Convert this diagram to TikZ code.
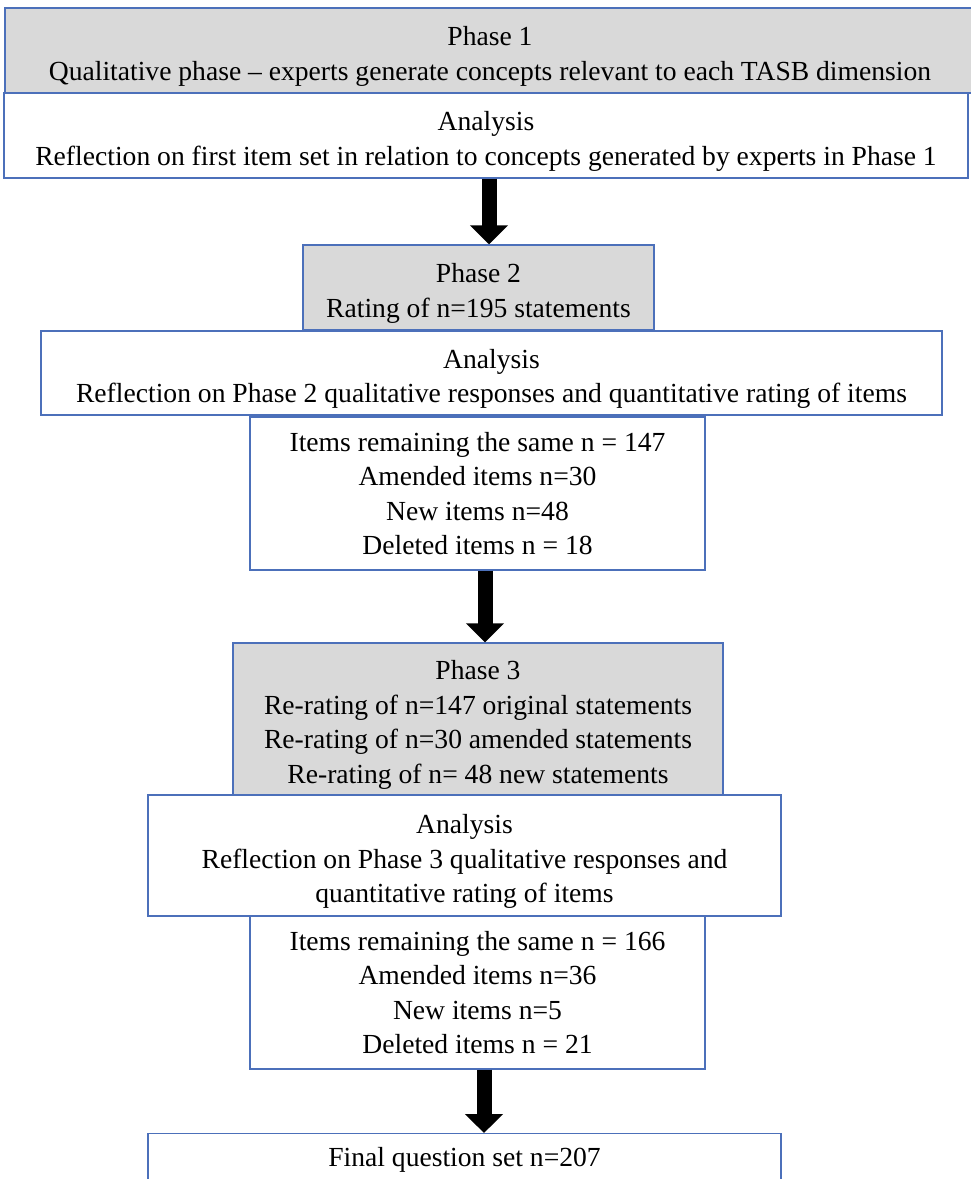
\documentclass[tikz,border=0pt]{standalone}
\usepackage{fontspec}
\setmainfont{Liberation Serif}
\usetikzlibrary{arrows.meta}
\definecolor{boxblue}{RGB}{76,112,186}
\definecolor{boxgray}{RGB}{217,217,217}
\newcommand{\topstrut}{\rule{0pt}{31pt}}
\tikzset{
  box/.style={draw=boxblue, line width=1.4pt, fill=white, inner sep=0pt, align=center,
    font=\fontsize{27.6}{34.5}\selectfont},
  graybox/.style={box, fill=boxgray},
  bigarrow/.style={draw=black, line width=15pt, -{Triangle[width=37pt,length=19pt]}}
}
\begin{document}
\begin{tikzpicture}[x=1pt,y=-1pt]
\useasboundingbox (0,0) rectangle (971,1179);
\fill[white] (0,0) rectangle (971,1179);

\node[graybox, minimum width=970pt, minimum height=85pt] (p1) at (490,50.5)
  {\topstrut Phase 1\\Qualitative phase -- experts generate concepts relevant to each TASB dimension};
\node[box, minimum width=964pt, minimum height=85pt] (a1) at (486,135.5)
  {\topstrut Analysis\\Reflection on first item set in relation to concepts generated by experts in Phase 1};

\node[graybox, minimum width=351pt, minimum height=85pt] (p2) at (478.5,287.5)
  {\topstrut Phase 2\\Rating of n=195 statements};
\node[box, minimum width=901pt, minimum height=84pt] (a2) at (491.5,373)
  {\topstrut Analysis\\Reflection on Phase 2 qualitative responses and quantitative rating of items};
\node[box, minimum width=455pt, minimum height=153pt] (i1) at (477.5,493.5)
  {Items remaining the same n = 147\\Amended items n=30\\New items n=48\\Deleted items n = 18};

\node[graybox, minimum width=490pt, minimum height=152pt] (p3) at (478,719)
  {\topstrut Phase 3\\Re-rating of n=147 original statements\\Re-rating of n=30 amended statements\\Re-rating of n= 48 new statements};
\node[box, minimum width=633pt, minimum height=121pt] (a3) at (464.5,855.5)
  {\topstrut Analysis\\Reflection on Phase 3 qualitative responses and\\quantitative rating of items};
\node[box, minimum width=455pt, minimum height=153pt] (i2) at (477.5,992.5)
  {Items remaining the same n = 166\\Amended items n=36\\New items n=5\\Deleted items n = 21};

\node[box, anchor=north, minimum width=633pt, text height=19pt, text depth=6pt, inner ysep=14pt]
  (fin) at (464.5,1133) {Final question set n=207};

\coordinate (ax1) at (489,0);
\coordinate (ax2) at (485,0);
\coordinate (ax3) at (484,0);
\draw[bigarrow] (a1.south -| ax1) -- (p2.north -| ax1);
\draw[bigarrow] (i1.south -| ax2) -- (p3.north -| ax2);
\draw[bigarrow] (i2.south -| ax3) -- (fin.north -| ax3);
\end{tikzpicture}
\end{document}
